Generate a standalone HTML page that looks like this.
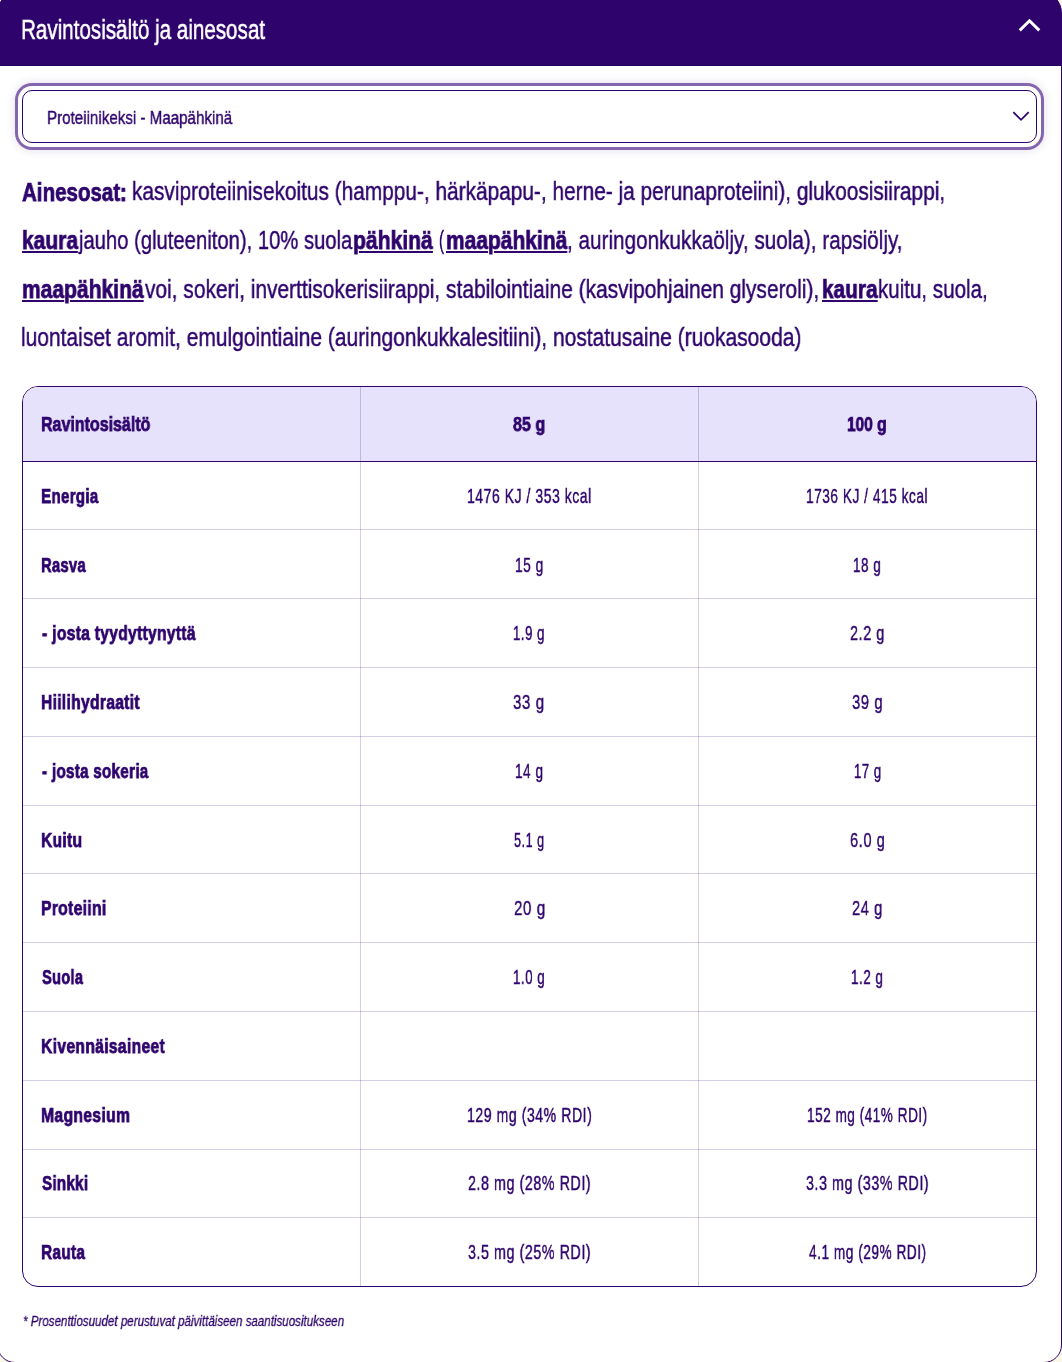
<!DOCTYPE html>
<html><head><meta charset="utf-8"><style>
html,body{margin:0;padding:0;}
body{width:1062px;height:1362px;position:relative;overflow:hidden;background:#FBF7E8;font-family:"Liberation Sans",sans-serif;}
.card{position:absolute;left:-3px;top:-9.4px;width:1063px;height:1370.4px;border:1px solid #2E046C;border-radius:22px 22px 18px 18px;background:linear-gradient(#2E046C 0 50px,#fff 50px);overflow:hidden;}
.hdr{position:absolute;left:0;top:0;right:0;height:73.4px;background:#2E046C;border-bottom:1px solid #230062;}
.t{position:absolute;white-space:nowrap;line-height:1;transform-origin:0 0;will-change:transform;}
.sel{position:absolute;left:22px;top:90px;width:1013px;height:51px;border:1px solid #2E046C;border-radius:10px;background:#fff;
box-shadow:0 0 0 4px #fff,0 0 0 7px #8466AE,0 0 8px 8px rgba(70,40,120,0.13);}
.tbl{position:absolute;left:22px;top:386px;width:1013px;height:899px;border:1px solid #2E046C;border-radius:16px;overflow:hidden;background:#fff;}
.th{position:absolute;left:0;top:0;right:0;height:74px;background:#E6E2FB;border-bottom:1px solid #2E046C;}
.hl{position:absolute;left:0;right:0;height:1px;background:rgba(46,4,108,0.2);}
.vl{position:absolute;top:0;bottom:0;width:1px;background:rgba(46,4,108,0.2);}
u{text-decoration:underline;text-decoration-thickness:1.8px;text-underline-offset:2.2px;}
</style></head><body>
<div class="card"><div class="hdr"></div></div>
<svg style="position:absolute;left:1016px;top:16px" width="28" height="18" viewBox="0 0 28 18"><path d="M4.8 13.3 L13.5 4.8 L22.2 13.3" fill="none" stroke="#fff" stroke-width="3" stroke-linecap="square"/></svg>
<div class="sel"></div>
<svg style="position:absolute;left:1008px;top:106px" width="26" height="20" viewBox="0 0 26 20"><path d="M5.3 6.1 L13 13.8 L20.7 6.1" fill="none" stroke="#2E046C" stroke-width="1.75"/></svg>
<div class="tbl"><div class="th"></div>
<div class="vl" style="left:337px"></div><div class="vl" style="left:675px"></div>
<div class="hl" style="top:142px"></div><div class="hl" style="top:211px"></div><div class="hl" style="top:280px"></div><div class="hl" style="top:349px"></div><div class="hl" style="top:418px"></div><div class="hl" style="top:486px"></div><div class="hl" style="top:555px"></div><div class="hl" style="top:624px"></div><div class="hl" style="top:693px"></div><div class="hl" style="top:762px"></div><div class="hl" style="top:830px"></div>
</div>
<div class="t" style="left:21.36px;top:17.01px;font-size:26.8px;font-weight:400;font-style:normal;color:#fff;transform:scaleX(0.7692);-webkit-text-stroke:0.55px #fff;letter-spacing:0.0px">Ravintosisältö ja ainesosat</div><div class="t" style="left:47.30px;top:108.02px;font-size:19.0px;font-weight:400;font-style:normal;color:#2E046C;transform:scaleX(0.7970);-webkit-text-stroke:0.45px #2E046C;letter-spacing:0.0px">Proteiinikeksi - Maapähkinä</div><div class="t" style="left:21.60px;top:179.80px;font-size:25.4px;font-weight:700;font-style:normal;color:#2E046C;transform:scaleX(0.8078);-webkit-text-stroke:0.75px #2E046C;letter-spacing:0.0px"><b>Ainesosat:</b></div><div class="t" style="left:132.30px;top:178.41px;font-size:26.1px;font-weight:400;font-style:normal;color:#2E046C;transform:scaleX(0.7986);-webkit-text-stroke:0.45px #2E046C;letter-spacing:0.0px">kasviproteiinisekoitus (hamppu-, härkäpapu-, herne- ja perunaproteiini), glukoosisiirappi,</div><div class="t" style="left:22.20px;top:228.47px;font-size:25.4px;font-weight:700;font-style:normal;color:#2E046C;transform:scaleX(0.8265);-webkit-text-stroke:0.75px #2E046C;letter-spacing:0.0px"><u>kaura</u></div><div class="t" style="left:79.08px;top:227.08px;font-size:26.1px;font-weight:400;font-style:normal;color:#2E046C;transform:scaleX(0.7751);-webkit-text-stroke:0.45px #2E046C;letter-spacing:0.0px">jauho (gluteeniton), 10% suola</div><div class="t" style="left:353.37px;top:228.47px;font-size:25.4px;font-weight:700;font-style:normal;color:#2E046C;transform:scaleX(0.8316);-webkit-text-stroke:0.75px #2E046C;letter-spacing:0.0px"><u>pähkinä</u></div><div class="t" style="left:438.62px;top:227.08px;font-size:26.1px;font-weight:400;font-style:normal;color:#2E046C;transform:scaleX(0.5750);-webkit-text-stroke:0.45px #2E046C;letter-spacing:0.0px">(</div><div class="t" style="left:446.10px;top:228.47px;font-size:25.4px;font-weight:700;font-style:normal;color:#2E046C;transform:scaleX(0.8259);-webkit-text-stroke:0.75px #2E046C;letter-spacing:0.0px"><u>maapähkinä</u></div><div class="t" style="left:566.71px;top:227.08px;font-size:26.1px;font-weight:400;font-style:normal;color:#2E046C;transform:scaleX(0.7940);-webkit-text-stroke:0.45px #2E046C;letter-spacing:0.0px">, auringonkukkaöljy, suola), rapsiöljy,</div><div class="t" style="left:22.20px;top:277.14px;font-size:25.4px;font-weight:700;font-style:normal;color:#2E046C;transform:scaleX(0.8286);-webkit-text-stroke:0.75px #2E046C;letter-spacing:0.0px"><u>maapähkinä</u></div><div class="t" style="left:144.60px;top:275.75px;font-size:26.1px;font-weight:400;font-style:normal;color:#2E046C;transform:scaleX(0.8015);-webkit-text-stroke:0.45px #2E046C;letter-spacing:0.0px">voi, sokeri, inverttisokerisiirappi, stabilointiaine (kasvipohjainen glyseroli),</div><div class="t" style="left:822.20px;top:277.14px;font-size:25.4px;font-weight:700;font-style:normal;color:#2E046C;transform:scaleX(0.8206);-webkit-text-stroke:0.75px #2E046C;letter-spacing:0.0px"><u>kaura</u></div><div class="t" style="left:877.71px;top:275.75px;font-size:26.1px;font-weight:400;font-style:normal;color:#2E046C;transform:scaleX(0.7882);-webkit-text-stroke:0.45px #2E046C;letter-spacing:0.0px">kuitu, suola,</div><div class="t" style="left:21.40px;top:324.42px;font-size:26.1px;font-weight:400;font-style:normal;color:#2E046C;transform:scaleX(0.8042);-webkit-text-stroke:0.45px #2E046C;letter-spacing:0.0px">luontaiset aromit, emulgointiaine (auringonkukkalesitiini), nostatusaine (ruokasooda)</div><div class="t" style="left:41.24px;top:486.75px;font-size:19.9px;font-weight:700;font-style:normal;color:#2E046C;transform:scaleX(0.7600);-webkit-text-stroke:0.75px #2E046C;letter-spacing:0.4px">Energia</div><div class="t" style="left:467.01px;top:485.90px;font-size:20.2px;font-weight:400;font-style:normal;color:#2E046C;transform:scaleX(0.6910);-webkit-text-stroke:0.45px #2E046C;letter-spacing:0.8px">1476 KJ / 353 kcal</div><div class="t" style="left:806.32px;top:485.90px;font-size:20.2px;font-weight:400;font-style:normal;color:#2E046C;transform:scaleX(0.6758);-webkit-text-stroke:0.45px #2E046C;letter-spacing:0.8px">1736 KJ / 415 kcal</div><div class="t" style="left:41.26px;top:555.50px;font-size:19.9px;font-weight:700;font-style:normal;color:#2E046C;transform:scaleX(0.7400);-webkit-text-stroke:0.75px #2E046C;letter-spacing:0.4px">Rasva</div><div class="t" style="left:515.12px;top:554.65px;font-size:20.2px;font-weight:400;font-style:normal;color:#2E046C;transform:scaleX(0.6750);-webkit-text-stroke:0.45px #2E046C;letter-spacing:0.8px">15 g</div><div class="t" style="left:853.34px;top:554.65px;font-size:20.2px;font-weight:400;font-style:normal;color:#2E046C;transform:scaleX(0.6650);-webkit-text-stroke:0.45px #2E046C;letter-spacing:0.8px">18 g</div><div class="t" style="left:42.00px;top:624.25px;font-size:19.9px;font-weight:700;font-style:normal;color:#2E046C;transform:scaleX(0.7837);-webkit-text-stroke:0.75px #2E046C;letter-spacing:0.4px">- josta tyydyttynyttä</div><div class="t" style="left:513.25px;top:623.40px;font-size:20.2px;font-weight:400;font-style:normal;color:#2E046C;transform:scaleX(0.6543);-webkit-text-stroke:0.45px #2E046C;letter-spacing:0.8px">1.9 g</div><div class="t" style="left:849.78px;top:623.40px;font-size:20.2px;font-weight:400;font-style:normal;color:#2E046C;transform:scaleX(0.7152);-webkit-text-stroke:0.45px #2E046C;letter-spacing:0.8px">2.2 g</div><div class="t" style="left:41.22px;top:693.00px;font-size:19.9px;font-weight:700;font-style:normal;color:#2E046C;transform:scaleX(0.7840);-webkit-text-stroke:0.75px #2E046C;letter-spacing:0.4px">Hiilihydraatit</div><div class="t" style="left:513.46px;top:692.15px;font-size:20.2px;font-weight:400;font-style:normal;color:#2E046C;transform:scaleX(0.7450);-webkit-text-stroke:0.45px #2E046C;letter-spacing:0.8px">33 g</div><div class="t" style="left:851.67px;top:692.15px;font-size:20.2px;font-weight:400;font-style:normal;color:#2E046C;transform:scaleX(0.7325);-webkit-text-stroke:0.45px #2E046C;letter-spacing:0.8px">39 g</div><div class="t" style="left:42.00px;top:761.75px;font-size:19.9px;font-weight:700;font-style:normal;color:#2E046C;transform:scaleX(0.7621);-webkit-text-stroke:0.75px #2E046C;letter-spacing:0.4px">- josta sokeria</div><div class="t" style="left:515.33px;top:760.90px;font-size:20.2px;font-weight:400;font-style:normal;color:#2E046C;transform:scaleX(0.6700);-webkit-text-stroke:0.45px #2E046C;letter-spacing:0.8px">14 g</div><div class="t" style="left:853.55px;top:760.90px;font-size:20.2px;font-weight:400;font-style:normal;color:#2E046C;transform:scaleX(0.6500);-webkit-text-stroke:0.45px #2E046C;letter-spacing:0.8px">17 g</div><div class="t" style="left:41.22px;top:830.50px;font-size:19.9px;font-weight:700;font-style:normal;color:#2E046C;transform:scaleX(0.7820);-webkit-text-stroke:0.75px #2E046C;letter-spacing:0.4px">Kuitu</div><div class="t" style="left:513.97px;top:829.65px;font-size:20.2px;font-weight:400;font-style:normal;color:#2E046C;transform:scaleX(0.6283);-webkit-text-stroke:0.45px #2E046C;letter-spacing:0.8px">5.1 g</div><div class="t" style="left:849.77px;top:829.65px;font-size:20.2px;font-weight:400;font-style:normal;color:#2E046C;transform:scaleX(0.7261);-webkit-text-stroke:0.45px #2E046C;letter-spacing:0.8px">6.0 g</div><div class="t" style="left:41.21px;top:899.25px;font-size:19.9px;font-weight:700;font-style:normal;color:#2E046C;transform:scaleX(0.7877);-webkit-text-stroke:0.75px #2E046C;letter-spacing:0.4px">Proteiini</div><div class="t" style="left:513.65px;top:898.40px;font-size:20.2px;font-weight:400;font-style:normal;color:#2E046C;transform:scaleX(0.7475);-webkit-text-stroke:0.45px #2E046C;letter-spacing:0.8px">20 g</div><div class="t" style="left:851.98px;top:898.40px;font-size:20.2px;font-weight:400;font-style:normal;color:#2E046C;transform:scaleX(0.7250);-webkit-text-stroke:0.45px #2E046C;letter-spacing:0.8px">24 g</div><div class="t" style="left:42.00px;top:968.00px;font-size:19.9px;font-weight:700;font-style:normal;color:#2E046C;transform:scaleX(0.7339);-webkit-text-stroke:0.75px #2E046C;letter-spacing:0.4px">Suola</div><div class="t" style="left:513.24px;top:967.15px;font-size:20.2px;font-weight:400;font-style:normal;color:#2E046C;transform:scaleX(0.6609);-webkit-text-stroke:0.45px #2E046C;letter-spacing:0.8px">1.0 g</div><div class="t" style="left:850.73px;top:967.15px;font-size:20.2px;font-weight:400;font-style:normal;color:#2E046C;transform:scaleX(0.6652);-webkit-text-stroke:0.45px #2E046C;letter-spacing:0.8px">1.2 g</div><div class="t" style="left:41.21px;top:1036.75px;font-size:19.9px;font-weight:700;font-style:normal;color:#2E046C;transform:scaleX(0.7878);-webkit-text-stroke:0.75px #2E046C;letter-spacing:0.4px">Kivennäisaineet</div><div class="t" style="left:41.21px;top:1105.50px;font-size:19.9px;font-weight:700;font-style:normal;color:#2E046C;transform:scaleX(0.7892);-webkit-text-stroke:0.75px #2E046C;letter-spacing:0.4px">Magnesium</div><div class="t" style="left:467.20px;top:1104.65px;font-size:20.2px;font-weight:400;font-style:normal;color:#2E046C;transform:scaleX(0.6966);-webkit-text-stroke:0.45px #2E046C;letter-spacing:0.8px">129 mg (34% RDI)</div><div class="t" style="left:807.13px;top:1104.65px;font-size:20.2px;font-weight:400;font-style:normal;color:#2E046C;transform:scaleX(0.6706);-webkit-text-stroke:0.45px #2E046C;letter-spacing:0.8px">152 mg (41% RDI)</div><div class="t" style="left:42.00px;top:1174.25px;font-size:19.9px;font-weight:700;font-style:normal;color:#2E046C;transform:scaleX(0.7600);-webkit-text-stroke:0.75px #2E046C;letter-spacing:0.4px">Sinkki</div><div class="t" style="left:468.09px;top:1173.40px;font-size:20.2px;font-weight:400;font-style:normal;color:#2E046C;transform:scaleX(0.7064);-webkit-text-stroke:0.45px #2E046C;letter-spacing:0.8px">2.8 mg (28% RDI)</div><div class="t" style="left:805.69px;top:1173.40px;font-size:20.2px;font-weight:400;font-style:normal;color:#2E046C;transform:scaleX(0.7064);-webkit-text-stroke:0.45px #2E046C;letter-spacing:0.8px">3.3 mg (33% RDI)</div><div class="t" style="left:41.23px;top:1243.00px;font-size:19.9px;font-weight:700;font-style:normal;color:#2E046C;transform:scaleX(0.7732);-webkit-text-stroke:0.75px #2E046C;letter-spacing:0.4px">Rauta</div><div class="t" style="left:468.09px;top:1242.15px;font-size:20.2px;font-weight:400;font-style:normal;color:#2E046C;transform:scaleX(0.7064);-webkit-text-stroke:0.45px #2E046C;letter-spacing:0.8px">3.5 mg (25% RDI)</div><div class="t" style="left:808.80px;top:1242.15px;font-size:20.2px;font-weight:400;font-style:normal;color:#2E046C;transform:scaleX(0.6746);-webkit-text-stroke:0.45px #2E046C;letter-spacing:0.8px">4.1 mg (29% RDI)</div><div class="t" style="left:41.00px;top:414.75px;font-size:19.9px;font-weight:700;font-style:normal;color:#2E046C;transform:scaleX(0.8045);-webkit-text-stroke:0.75px #2E046C;letter-spacing:0.0px">Ravintosisältö</div><div class="t" style="left:513.40px;top:414.75px;font-size:19.9px;font-weight:700;font-style:normal;color:#2E046C;transform:scaleX(0.8077);-webkit-text-stroke:0.75px #2E046C;letter-spacing:0.0px">85 g</div><div class="t" style="left:847.32px;top:414.75px;font-size:19.9px;font-weight:700;font-style:normal;color:#2E046C;transform:scaleX(0.7776);-webkit-text-stroke:0.75px #2E046C;letter-spacing:0.0px">100 g</div><div class="t" style="left:23.18px;top:1314.18px;font-size:14.2px;font-weight:400;font-style:italic;color:#2E046C;transform:scaleX(0.8158);-webkit-text-stroke:0.3px #2E046C;letter-spacing:0.0px">* Prosenttiosuudet perustuvat päivittäiseen saantisuositukseen</div>
</body></html>
